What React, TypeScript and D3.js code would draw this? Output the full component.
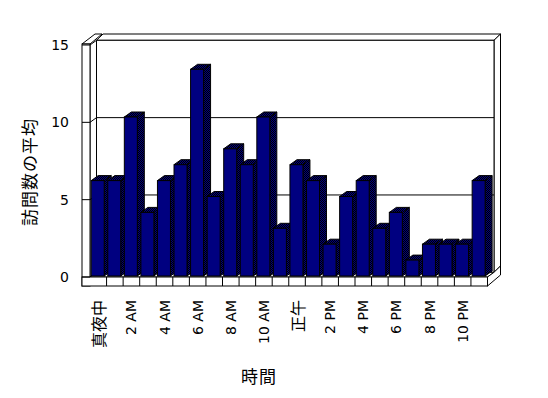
import React from "react";
import * as d3 from "d3";

// 時間ごとの訪問数の平均
const hours = [
  "真夜中", "1 AM", "2 AM", "3 AM", "4 AM", "5 AM", "6 AM", "7 AM", "8 AM", "9 AM", "10 AM", "11 AM",
  "正午", "1 PM", "2 PM", "3 PM", "4 PM", "5 PM", "6 PM", "7 PM", "8 PM", "9 PM", "10 PM", "11 PM",
];
const visits = [6, 6, 10, 4, 6, 7, 13, 5, 8, 7, 10, 3, 7, 6, 2, 5, 6, 3, 4, 1, 2, 2, 2, 6];
const yTicks = [0, 5, 10, 15];
const yTitle = "訪問数の平均";
const xTitle = "時間";

const W = 548;
const H = 398;
const LATIN = "'DejaVu Sans', 'Noto Sans CJK JP', sans-serif";
const CJK = "'Noto Sans CJK JP', 'DejaVu Sans', sans-serif";

export default function App() {
  // front plane
  const xL = 90, xR = 487.5, wallOut = 82, floorBottom = 286;
  // depth offsets: front -> back wall inner face, and wall thickness
  const d1 = { x: 6.5, y: -4.7 };
  const d2 = { x: 13, y: -11 };

  const x = d3.scaleBand().domain(hours).range([xL, xR]);
  const yFront = d3.scaleLinear().domain([0, 15]).range([277, 45]);
  const yBar = d3.scaleLinear().domain([0, 15]).range([276, 37.5]);

  const bw = x.bandwidth();
  const faceW = 13;
  const bd = { x: 7, y: -5 };

  const pts = (arr: number[][]) => arr.map((p) => p.join(",")).join(" ");
  const top15 = yFront(15);

  return (
    <svg width={W} height={H} style={{ position: "absolute", left: 0, top: 0, background: "#fff" }}>
      <defs>
        <pattern id="dither" width="2" height="2" patternUnits="userSpaceOnUse">
          <rect width="2" height="2" fill="#000080" />
          <rect width="1" height="1" fill="#000" />
          <rect x="1" y="1" width="1" height="1" fill="#000" />
        </pattern>
      </defs>

      <g fill="#fff" stroke="#000" strokeWidth={1}>
        {/* back wall top + right side */}
        <polygon points={pts([[xL + d1.x, top15 + d1.y], [xR + d1.x, top15 + d1.y], [xR + d2.x, top15 + d2.y], [xL + d2.x, top15 + d2.y]])} />
        <polygon points={pts([[xR + d1.x, top15 + d1.y], [xR + d2.x, top15 + d2.y], [xR + d2.x, 277 + d2.y], [xR + d1.x, 277 + d1.y]])} />
        {/* back wall inner face */}
        <rect x={xL + d1.x} y={top15 + d1.y} width={xR - xL} height={277 - top15} />
        {/* left wall top, inner face, front */}
        <polygon points={pts([[wallOut, top15 - 1], [xL, top15 - 1], [xL + d2.x - 1, top15 + d2.y], [wallOut + d2.x, top15 + d2.y]])} />
        <polygon points={pts([[xL, top15], [xL + d1.x, top15 + d1.y], [xL + d1.x, 277 + d1.y], [xL, 277]])} />
        <rect x={wallOut} y={top15 - 1} width={xL - wallOut} height={floorBottom - top15 + 1} />
        {/* floor */}
        <polygon points={pts([[xL, 277], [xR, 277], [xR + d1.x, 277 + d1.y], [xL + d1.x, 277 + d1.y]])} />
        <polygon points={pts([[xR, 277], [xR + d1.x, 277 + d1.y], [xR + d2.x, 277 + d2.y], [xR + d2.x, floorBottom + d2.y], [xR, floorBottom]])} />
        <rect x={wallOut} y={277} width={xR - wallOut} height={floorBottom - 277} />
      </g>

      {/* gridlines on the walls and ticks on the axis */}
      <g stroke="#000" strokeWidth={1} fill="none">
        {yTicks.map((t) => (
          <g key={t}>
            <line x1={wallOut} x2={xL} y1={yFront(t)} y2={yFront(t)} />
            {t > 0 && t < 15 && (
              <>
                <line x1={xL} y1={yFront(t)} x2={xL + d1.x} y2={yFront(t) + d1.y} />
                <line x1={xL + d1.x} x2={xR + d1.x} y1={yFront(t) + d1.y} y2={yFront(t) + d1.y} />
              </>
            )}
          </g>
        ))}
        {hours.slice(1).map((h) => (
          <line key={h} x1={x(h)!} x2={x(h)!} y1={277} y2={floorBottom} />
        ))}
      </g>

      {/* bars */}
      <g stroke="#000" strokeWidth={1}>
        {hours.map((h, i) => {
          const x0 = x(h)! + 1.2;
          const x1 = x0 + faceW;
          const yt = yBar(visits[i]);
          const yb = yBar(0);
          return (
            <g key={h}>
              <polygon fill="url(#dither)" points={pts([[x1, yt], [x1 + bd.x, yt + bd.y], [x1 + bd.x, yb + bd.y], [x1, yb]])} />
              <polygon fill="url(#dither)" points={pts([[x0, yt], [x0 + bd.x, yt + bd.y], [x1 + bd.x, yt + bd.y], [x1, yt]])} />
              <rect x={x0} y={yt} width={faceW} height={yb - yt} fill="#000080" />
            </g>
          );
        })}
      </g>

      {/* y tick labels */}
      <g fontFamily={LATIN} fontSize={14} textAnchor="end">
        {yTicks.map((t) => (
          <text key={t} x={69} y={yFront(t)} dominantBaseline="central">{t}</text>
        ))}
      </g>

      {/* category labels */}
      <g textAnchor="end">
        {hours.map((h, i) =>
          i % 2 === 0 ? (
            <text
              key={h}
              transform={`translate(${x(h)! + bw / 2},300) rotate(-90)`}
              dominantBaseline="central"
              fontFamily={/[^\x00-\x7F]/.test(h) ? CJK : LATIN}
              fontSize={/[^\x00-\x7F]/.test(h) ? 16 : 14}
            >
              {h}
            </text>
          ) : null
        )}
      </g>

      <text transform="translate(28,172) rotate(-90)" textAnchor="middle" dominantBaseline="central" fontFamily={CJK} fontSize={17} letterSpacing={1}>
        {yTitle}
      </text>
      <text x={259} y={375} textAnchor="middle" dominantBaseline="central" fontFamily={CJK} fontSize={17} letterSpacing={1}>
        {xTitle}
      </text>
    </svg>
  );
}
